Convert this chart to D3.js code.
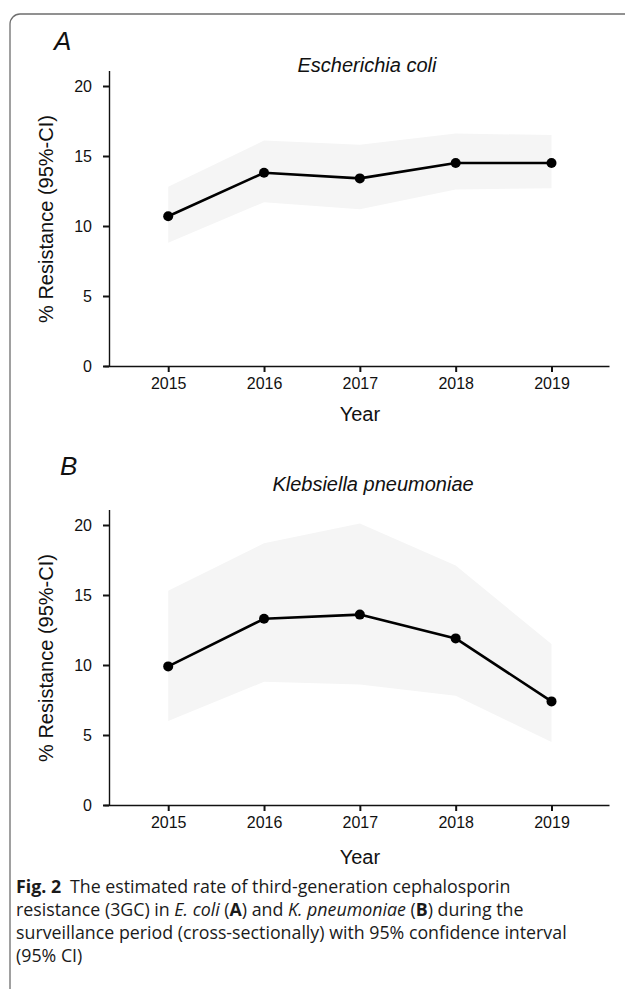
<!DOCTYPE html>
<html>
<head>
<meta charset="utf-8">
<script src="https://cdn.jsdelivr.net/npm/d3@7"></script>
<style>
  body { margin: 0; background: #fff; }
  svg text { font-family: 'Liberation Sans', Arial, sans-serif; fill: #111; }
  .axis path, .axis line { stroke: #111; }
  .axis text { font-size: 16px; fill: #111; font-family: 'Liberation Sans', Arial, sans-serif; }
  .caption text { font-family: 'Open Sans', 'Noto Sans', sans-serif; font-size: 17.8px; fill: #1a1a1a; }
</style>
</head>
<body>
<div id="chart"></div>
<script>
const years = [2015, 2016, 2017, 2018, 2019];
const yTicks = [0, 5, 10, 15, 20];

// Escherichia coli, % resistance with 95% CI
const ecoliEstimate = [10.7, 13.8, 13.4, 14.5, 14.5];
const ecoliLower = [8.8, 11.7, 11.2, 12.6, 12.7];
const ecoliUpper = [12.8, 16.1, 15.8, 16.6, 16.5];

// Klebsiella pneumoniae
const kpneuEstimate = [9.9, 13.3, 13.6, 11.9, 7.4];
const kpneuLower = [6.0, 8.8, 8.6, 7.8, 4.5];
const kpneuUpper = [15.3, 18.7, 20.1, 17.1, 11.5];

const width = 625, height = 989;

const svg = d3.select('#chart').append('svg')
  .attr('width', width)
  .attr('height', height);

// rounded figure frame, runs off the right and bottom edges
svg.append('rect')
  .attr('x', 10).attr('y', 14)
  .attr('width', 660).attr('height', 1020)
  .attr('rx', 10).attr('ry', 10)
  .attr('fill', 'none')
  .attr('stroke', '#6e6e6e')
  .attr('stroke-width', 1.3);

const x = d3.scaleLinear()
  .domain([2014.33, 2019.6])
  .range([104, 609]);

function renderPanel(opts) {
  const rows = years.map(function(yr, i) {
    return { year: yr, est: opts.est[i], lo: opts.lo[i], hi: opts.hi[i] };
  });

  const y = d3.scaleLinear()
    .domain([0, 21.1])
    .range([opts.bottom, opts.bottom - 21.1 * 14]);

  const g = svg.append('g');

  // confidence band
  g.append('path')
    .datum(rows)
    .attr('fill', '#f5f5f5')
    .attr('d', d3.area()
      .x(function(d) { return x(d.year); })
      .y0(function(d) { return y(d.lo); })
      .y1(function(d) { return y(d.hi); }));

  g.append('path')
    .datum(rows)
    .attr('fill', 'none')
    .attr('stroke', '#000')
    .attr('stroke-width', 2.6)
    .attr('stroke-linejoin', 'round')
    .attr('d', d3.line()
      .x(function(d) { return x(d.year); })
      .y(function(d) { return y(d.est); }));

  g.selectAll('circle.pt')
    .data(rows)
    .enter().append('circle')
    .attr('class', 'pt')
    .attr('cx', function(d) { return x(d.year); })
    .attr('cy', function(d) { return y(d.est); })
    .attr('r', 5)
    .attr('fill', '#000');

  // axes
  const xAxis = g.append('g')
    .attr('class', 'axis')
    .attr('transform', 'translate(0,' + opts.bottom + ')')
    .call(d3.axisBottom(x)
      .tickValues(years)
      .tickFormat(d3.format('d'))
      .tickSize(6)
      .tickSizeOuter(0)
      .tickPadding(6));
  xAxis.select('.domain').attr('stroke-width', 1.4);
  xAxis.selectAll('.tick line').attr('stroke-width', 2);

  const yAxis = g.append('g')
    .attr('class', 'axis')
    .attr('transform', 'translate(109,0)')
    .call(d3.axisLeft(y)
      .tickValues(yTicks)
      .tickSize(6)
      .tickSizeOuter(0)
      .tickPadding(11));
  yAxis.select('.domain').attr('stroke-width', 1.4);
  yAxis.selectAll('.tick line').attr('stroke-width', 2);

  // labels
  g.append('text')
    .attr('x', opts.letterX)
    .attr('y', opts.letterY)
    .attr('font-size', 26)
    .attr('font-style', 'italic')
    .text(opts.letter);

  g.append('text')
    .attr('x', opts.titleX)
    .attr('y', opts.titleY)
    .attr('text-anchor', 'middle')
    .attr('font-size', 20)
    .attr('font-style', 'italic')
    .text(opts.title);

  g.append('text')
    .attr('transform', 'translate(53,' + y(10.5) + ') rotate(-90)')
    .attr('text-anchor', 'middle')
    .attr('font-size', 20)
    .text('% Resistance (95%-CI)');

  g.append('text')
    .attr('x', x(2017))
    .attr('y', opts.yearY)
    .attr('text-anchor', 'middle')
    .attr('font-size', 20)
    .text('Year');
}

renderPanel({
  est: ecoliEstimate, lo: ecoliLower, hi: ecoliUpper,
  bottom: 366,
  letter: 'A', letterX: 54, letterY: 50,
  title: 'Escherichia coli', titleX: 367, titleY: 72,
  yearY: 421
});

renderPanel({
  est: kpneuEstimate, lo: kpneuLower, hi: kpneuUpper,
  bottom: 805,
  letter: 'B', letterX: 60, letterY: 475,
  title: 'Klebsiella pneumoniae', titleX: 373, titleY: 491,
  yearY: 864
});

// figure caption
const captionLines = [
  [{ t: 'Fig. 2', w: 'bold' }, { t: '\u2002The estimated rate of third-generation cephalosporin' }],
  [{ t: 'resistance (3GC) in ' }, { t: 'E. coli', s: 'italic' }, { t: ' (' }, { t: 'A', w: 'bold' },
   { t: ') and ' }, { t: 'K. pneumoniae', s: 'italic' }, { t: ' (' }, { t: 'B', w: 'bold' }, { t: ') during the' }],
  [{ t: 'surveillance period (cross-sectionally) with 95% confidence interval' }],
  [{ t: '(95% CI)' }]
];

const caption = svg.append('g').attr('class', 'caption');
captionLines.forEach(function(line, i) {
  const txt = caption.append('text')
    .attr('x', 16)
    .attr('y', 893 + i * 23);
  line.forEach(function(part) {
    txt.append('tspan')
      .attr('font-weight', part.w || null)
      .attr('font-style', part.s || null)
      .text(part.t);
  });
});
</script>
</body>
</html>
